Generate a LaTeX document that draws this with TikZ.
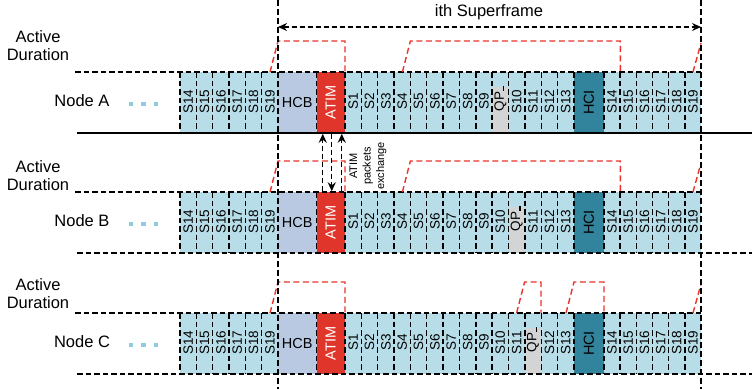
\documentclass[tikz,border=0pt]{standalone}
\usepackage{fontspec}
\setmainfont{Liberation Sans}
\usetikzlibrary{arrows.meta, calc}
\definecolor{slotBlue}{HTML}{B7DDE8}
\definecolor{hcbBlue}{HTML}{B9C9E1}
\definecolor{atimRed}{HTML}{E0352A}
\definecolor{hciTeal}{HTML}{31849B}
\definecolor{qpGrey}{HTML}{D4D4D4}
\definecolor{activeRed}{HTML}{E8322A}
\definecolor{dotBlue}{HTML}{8DCBDD}
\tikzset{
  % one pt is one pixel of the target, so widths are given in pixels
  every picture/.append style = {line width=1.4pt},
  sep/.style      = {black, dash pattern=on 5.5pt off 3pt},
  bound/.style    = {black, line width=1.6pt, dash pattern=on 6pt off 3pt},
  active/.style   = {activeRed, line width=1.4pt, dash pattern=on 6pt off 3.5pt},
  xarrow/.style   = {black, dash pattern=on 5pt off 3pt, -{Stealth[length=9pt, width=8pt]}},
  lbl/.style      = {font=\fontsize{16.5}{18}\selectfont},
  slotlbl/.style  = {rotate=90, inner sep=0pt, font=\fontsize{13.5}{13.5}\selectfont},
  blockbox/.style = {inner sep=0pt, minimum height=61pt, font=\fontsize{14.5}{14.5}\selectfont},
  dotsq/.style    = {fill=dotBlue, minimum size=4.5pt, inner sep=0pt},
}

\begin{document}
\begin{tikzpicture}[x=1pt, y=-1pt]
  \useasboundingbox (0,0) rectangle (752,389);
  \def\w{16.35}  % slot width
  \def\h{61}     % row height
  % one row per node: name / top / QP slot / label height
  \foreach \nd/\ty/\qp/\ay in {A/72/9/46, B/192/10/176, C/313/11/294} {
    % slot blocks
    \fill[slotBlue] (180,\ty) rectangle (701,\ty+\h);
    \fill[qpGrey] ({345+\qp*\w},\ty+15) rectangle ({345+(\qp+1)*\w},\ty+\h);
    \node[blockbox, fill=hcbBlue, minimum width=38.4pt] (\nd-hcb) at (297.3,\ty+\h/2) {HCB};
    \node[blockbox, fill=atimRed, minimum width=28.5pt, text=white] (\nd-atim) at (330.75,\ty+\h/2) {\rotatebox{90}{ATIM}};
    \node[blockbox, fill=hciTeal, minimum width=30pt] (\nd-hci) at (589,\ty+\h/2) {\rotatebox{90}{HCI}};
    % dashed separators
    \foreach \i in {0,...,5} \draw[sep] ({180+\i*\w},\ty) -- ++(0,\h);
    \draw[sep] (316.5,\ty) -- ++(0,\h);
    \foreach \i in {0,...,14} \draw[sep] ({345+\i*\w},\ty) -- ++(0,\h);
    \foreach \i in {0,...,5} \draw[sep] ({604+\i*16.17},\ty) -- ++(0,\h);
    \draw ({345+(\qp+0.7)*\w},\ty+14) -- ++(0,5);
    \draw[sep] (75,\ty) -- (701,\ty);
    % slot labels
    \foreach \i [count=\n from 14] in {0,...,5}
      \node[slotlbl] (\nd-a\n) at ({180+(\i+0.5)*\w},\ty+\h/2-1) {S\n};
    \foreach \k in {0,...,13} {
      \pgfmathtruncatemacro\sn{\k<\qp ? \k+1 : \k}
      \ifnum\k=\qp \def\txt{QP}\else \def\txt{S\sn}\fi
      \node[slotlbl] (\nd-m\k) at ({345+(\k+0.5)*\w},\ty+\h/2-1) {\txt};
    }
    \foreach \i [count=\n from 14] in {0,...,5}
      \node[slotlbl] (\nd-b\n) at ({604+(\i+0.5)*16.17},\ty+\h/2-1) {S\n};
    % node name, dots and active duration label
    \node[lbl] (node\nd) at (82,\ty+29) {Node \nd};
    \foreach \dx [count=\j] in {131,143.5,156}
      \node[dotsq] (\nd-dot\j) at (\dx,\ty+32) {};
    \node[lbl, align=center] (act\nd) at (38,\ay) {Active\\Duration};
  }
  % bottom lines
  \draw (77,133) -- (752,133);
  \draw[sep] (77,253) -- (752,253);
  \draw[sep] (77,374) -- (752,374);
  % active durations
  \foreach \ty/\xa/\xb in {72/278/345, 72/410.4/620.4, 192/278/345, 192/410.4/620.4,
                           313/278/345, 313/524.6/541, 313/574/604}
    \draw[active] (\xa-8,\ty) -- (\xa,\ty-31) -- (\xb,\ty-31) -- (\xb,\ty);
  \foreach \ty in {72,192,313}
    \draw[active] (693,\ty) -- (701,\ty-29);
  % superframe bounds
  \draw[bound] (278,0) -- (278,389);
  \draw[bound] (701,0) -- (701,389);
  \coordinate (sfL) at (278,27);
  \coordinate (sfR) at (701,27);
  \draw[xarrow, {Stealth[length=9pt, width=8pt]}-{Stealth[length=9pt, width=8pt]}] (sfL) -- (sfR);
  \node[lbl] (sflbl) at (489,12) {ith Superframe};
  % ATIM exchange between A and B
  \draw[xarrow] ([xshift=-8pt]B-atim.north) -- ([xshift=-8pt]A-atim.south);
  \draw[xarrow] ([xshift=1pt]A-atim.south) -- ([xshift=1pt]B-atim.north);
  \draw[xarrow] ([xshift=11pt]B-atim.north) -- ([xshift=11pt]A-atim.south);
  \node[rotate=90, align=center, font=\fontsize{11}{13.5}\selectfont] (xchg) at (368,166) {ATIM\\packets\\exchange};
\end{tikzpicture}
\end{document}
